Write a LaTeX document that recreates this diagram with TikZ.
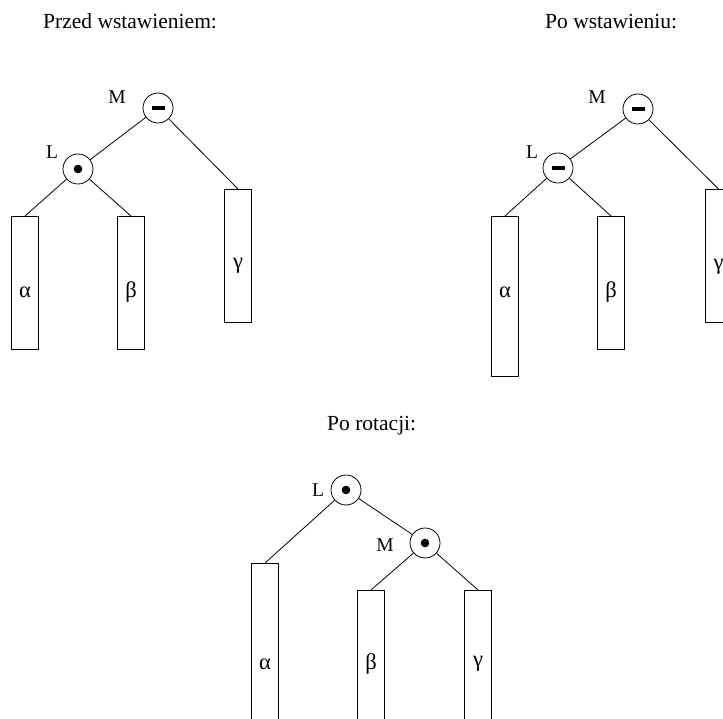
\documentclass[tikz,border=0pt]{standalone}
\usepackage{fontspec}
\setmainfont{Liberation Serif}
\begin{document}
\begin{tikzpicture}[x=1pt,y=-1pt,
  title/.style={anchor=base west, inner sep=0pt, font=\fontsize{21.5}{24}\selectfont},
  tag/.style={inner sep=0pt, font=\fontsize{19.5}{22}\selectfont},
  greek/.style={inner sep=0pt, font=\fontsize{22.5}{25}\selectfont},
  balnode/.style={circle, draw, line width=0.8pt, minimum size=30pt, inner sep=0pt},
  balzero/.style={balnode, path picture={\fill (path picture bounding box.center) circle (4.3pt);}},
  balminus/.style={balnode, path picture={\fill[shift={(path picture bounding box.center)}] (-6.5pt,-1.6pt) rectangle (6.5pt,1.6pt);}},
  subtree/.style={rectangle, draw, line width=0.8pt, minimum width=26.5pt, inner sep=0pt, anchor=north},
  shortsub/.style={subtree, minimum height=133pt},
  tallsub/.style={subtree, minimum height=160pt},
  edge/.style={line width=0.8pt}]
\useasboundingbox (0,0) rectangle (723,719);
\clip (0,0) rectangle (723,719);

% headings
\node[title] (h1) at (43,29) {Przed wstawieniem:};
\node[title] (h2) at (545,29) {Po wstawieniu:};
\node[title] (h3) at (327,430) {Po rotacji:};

% before insertion
\node[balminus] (M1) at (158,108) {};
\node[balzero]  (L1) at (78,169) {};
\node[tag] (M1t) at (117,97) {M};
\node[tag] (L1t) at (52,152) {L};
\node[shortsub] (A1) at (25,216) {};
\node[shortsub] (B1) at (131,216) {};
\node[shortsub] (G1) at (238,189) {};
\node[greek] (A1t) at (25,292) {α};
\node[greek] (B1t) at (131,292) {β};
\node[greek] (G1t) at (238,266) {γ};
\draw[edge] (M1) -- (L1);
\draw[edge] (M1) -- (G1.north);
\draw[edge] (L1) -- (A1.north);
\draw[edge] (L1) -- (B1.north);

% after insertion
\node[balminus] (M2) at (638,109) {};
\node[balminus] (L2) at (558,168) {};
\node[tag] (M2t) at (597,97) {M};
\node[tag] (L2t) at (532,152) {L};
\node[tallsub]  (A2) at (505,216) {};
\node[shortsub] (B2) at (611,216) {};
\node[shortsub] (G2) at (718.5,189) {};
\node[greek] (A2t) at (505,292) {α};
\node[greek] (B2t) at (611,292) {β};
\node[greek] (G2t) at (718.5,267) {γ};
\draw[edge] (M2) -- (L2);
\draw[edge] (M2) -- (G2.north);
\draw[edge] (L2) -- (A2.north);
\draw[edge] (L2) -- (B2.north);

% after rotation
\node[balzero] (L3) at (346,490) {};
\node[balzero] (M3) at (425,543) {};
\node[tag] (L3t) at (318,490) {L};
\node[tag] (M3t) at (385,545) {M};
\node[tallsub]  (A3) at (265,563) {};
\node[shortsub] (B3) at (371,590) {};
\node[shortsub] (G3) at (478,590) {};
\node[greek] (A3t) at (265,664) {α};
\node[greek] (B3t) at (371,664) {β};
\node[greek] (G3t) at (478,664) {γ};
\draw[edge] (L3) -- (M3);
\draw[edge] (L3) -- (A3.north);
\draw[edge] (M3) -- (B3.north);
\draw[edge] (M3) -- (G3.north);
\end{tikzpicture}
\end{document}
